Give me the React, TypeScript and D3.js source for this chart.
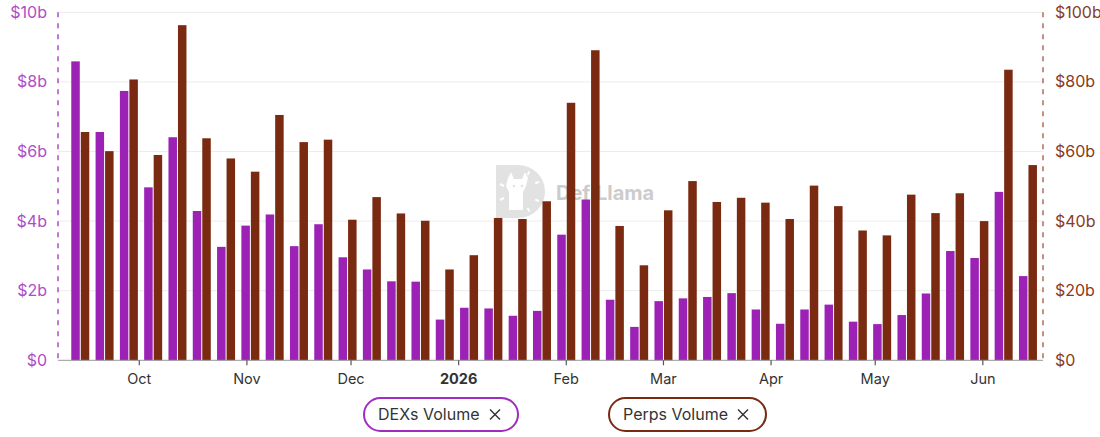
import React from 'react';
import * as d3 from 'd3';

// weekly buckets (week start, Sunday)
const weeks = [
  '2025-09-14', '2025-09-21', '2025-09-28', '2025-10-05', '2025-10-12', '2025-10-19', '2025-10-26',
  '2025-11-02', '2025-11-09', '2025-11-16', '2025-11-23', '2025-11-30', '2025-12-07', '2025-12-14',
  '2025-12-21', '2025-12-28', '2026-01-04', '2026-01-11', '2026-01-18', '2026-01-25', '2026-02-01',
  '2026-02-08', '2026-02-15', '2026-02-22', '2026-03-01', '2026-03-08', '2026-03-15', '2026-03-22',
  '2026-03-29', '2026-04-05', '2026-04-12', '2026-04-19', '2026-04-26', '2026-05-03', '2026-05-10',
  '2026-05-17', '2026-05-24', '2026-05-31', '2026-06-07', '2026-06-14',
];

// DEXs volume, $b (left axis)
const dexVolume = [
  8.59, 6.56, 7.74, 4.97, 6.41, 4.29, 3.26, 3.87, 4.19, 3.28, 3.91, 2.96, 2.61, 2.27, 2.26, 1.17, 1.51,
  1.49, 1.28, 1.42, 3.61, 4.62, 1.74, 0.96, 1.7, 1.78, 1.82, 1.93, 1.46, 1.05, 1.46, 1.6, 1.11, 1.04,
  1.3, 1.92, 3.14, 2.94, 4.84, 2.42,
];

// Perps volume, $b (right axis)
const perpsVolume = [
  65.6, 60.1, 80.7, 59.0, 96.3, 63.8, 58.0, 54.2, 70.5, 62.7, 63.4, 40.4, 46.9, 42.2, 40.1, 26.1, 30.2,
  40.9, 40.6, 45.7, 74.0, 89.1, 38.6, 27.3, 43.1, 51.5, 45.5, 46.7, 45.3, 40.6, 50.2, 44.3, 37.3, 35.9,
  47.6, 42.3, 48.0, 40.0, 83.5, 56.1,
];

const leftTicks = [0, 2, 4, 6, 8, 10];
const rightTicks = [0, 20, 40, 60, 80, 100];
const seriesNames = ['DEXs Volume', 'Perps Volume'];

const W = 1100;
const H = 437;
const left = 58;
const right = 1043;
const top = 12.3;
const bottom = 360.3;

const DEX_COLOR = '#9c22b6';
const PERPS_COLOR = '#7b2a12';
const FONT = 'Inter, "Open Sans", sans-serif';

const parse = d3.timeParse('%Y-%m-%d');

// little DefiLlama-ish mark behind the bars
const Watermark = () => (
  <g opacity={0.6}>
    <path d="M496,165 h22 a27,26.5 0 0 1 0,53 h-22 z" fill="#cfcfcf" />
    {/* llama head */}
    <path
      d="M508,178 l3,-6 l3,7 h8 l3,-7 l3,6 l-2,8 l-3,6 v18 h-14 v-18 l-3,-6 z"
      fill="#fff"
    />
    <circle cx={514} cy={186} r={1.2} fill="#cfcfcf" />
    <circle cx={522} cy={186} r={1.2} fill="#cfcfcf" />
    {/* tick dashes round the arc */}
    {[-60, -25, 25, 60].map((a) => {
      const r1 = 19;
      const r2 = 23;
      const rad = (a * Math.PI) / 180;
      return (
        <line
          key={a}
          x1={518 + r1 * Math.cos(rad)}
          y1={191.5 + r1 * Math.sin(rad)}
          x2={518 + r2 * Math.cos(rad)}
          y2={191.5 + r2 * Math.sin(rad)}
          stroke="#fff"
          strokeWidth={2}
        />
      );
    })}
    <line x1={500} y1={184} x2={504} y2={186} stroke="#fff" strokeWidth={2} />
    <line x1={500} y1={200} x2={504} y2={198} stroke="#fff" strokeWidth={2} />
    <text x={556} y={200} fontSize={20} fontWeight={700} fill="#ababab">
      DefiLlama
    </text>
  </g>
);

export default function App() {
  const dates = weeks.map((w) => parse(w) as Date);

  const x = d3
    .scaleTime()
    .domain([new Date(2025, 8, 7, 14), new Date(2026, 5, 18, 8)])
    .range([left, right]);

  const yLeft = d3.scaleLinear().domain([0, 10]).range([bottom, top]);
  const yRight = d3.scaleLinear().domain([0, 100]).range([bottom, top]);

  const monthTicks = d3.timeMonth.range(new Date(2025, 9, 1), new Date(2026, 5, 2));
  const fmtMonth = (d: Date) => (d.getMonth() === 0 ? d3.timeFormat('%Y')(d) : d3.timeFormat('%b')(d));

  const barW = 8.5;

  return (
    <svg
      width={W}
      height={H}
      style={{ position: 'absolute', left: 0, top: 0, background: '#fff' }}
      fontFamily={FONT}
    >
      {/* grid */}
      {leftTicks.slice(1).map((t) => (
        <line key={t} x1={left} x2={right} y1={yLeft(t)} y2={yLeft(t)} stroke="#ececec" strokeWidth={1} />
      ))}

      <Watermark />

      {/* bars */}
      {dates.map((d, i) => {
        const c = x(d);
        return (
          <g key={weeks[i]}>
            <rect
              x={c - barW - 0.5}
              y={yLeft(dexVolume[i])}
              width={barW}
              height={bottom - yLeft(dexVolume[i])}
              fill={DEX_COLOR}
            />
            <rect
              x={c + 0.5}
              y={yRight(perpsVolume[i])}
              width={barW}
              height={bottom - yRight(perpsVolume[i])}
              fill={PERPS_COLOR}
            />
          </g>
        );
      })}

      {/* x axis */}
      <line x1={left} x2={right} y1={bottom} y2={bottom} stroke="#999" strokeWidth={1} />
      {monthTicks.map((m) => (
        <g key={m.toISOString()} transform={`translate(${x(m)},0)`}>
          <line y1={bottom} y2={bottom + 5} stroke="#555" strokeWidth={1.2} />
          <text
            y={bottom + 24}
            textAnchor="middle"
            fontSize={14.5}
            fill="#333"
            fontWeight={m.getMonth() === 0 ? 700 : 400}
          >
            {fmtMonth(m)}
          </text>
        </g>
      ))}

      {/* left axis */}
      <line x1={left} x2={left} y1={top} y2={bottom} stroke={DEX_COLOR} strokeWidth={1.5} strokeDasharray="5,6" opacity={0.8} />
      {leftTicks.map((t) => (
        <text key={t} x={47} y={yLeft(t) + 5.5} textAnchor="end" fontSize={16} fill="#b04cc8">
          {t === 0 ? '$0' : `$${t}b`}
        </text>
      ))}

      {/* right axis */}
      <line x1={right} x2={right} y1={top} y2={bottom} stroke="#9a4a34" strokeWidth={1.5} strokeDasharray="5,6" opacity={0.8} />
      {rightTicks.map((t) => (
        <text key={t} x={1055} y={yRight(t) + 5.5} textAnchor="start" fontSize={16} fill="#8b3a22">
          {t === 0 ? '$0' : `$${t}b`}
        </text>
      ))}

      {/* legend */}
      {seriesNames.map((name, i) => {
        const lx = i === 0 ? 364 : 609;
        const lw = i === 0 ? 154 : 157;
        const col = i === 0 ? '#a02cc0' : '#7b2a12';
        return (
          <g key={name} transform={`translate(${lx},398)`}>
            <rect width={lw} height={33} rx={16.5} fill="#fff" stroke={col} strokeWidth={2} />
            <text x={14} y={22} fontSize={16} fill="#333">
              {name}
            </text>
            <g transform={`translate(${lw - 23},16.5)`} stroke="#333" strokeWidth={1.4}>
              <line x1={-5} y1={-5} x2={5} y2={5} />
              <line x1={-5} y1={5} x2={5} y2={-5} />
            </g>
          </g>
        );
      })}
    </svg>
  );
}
